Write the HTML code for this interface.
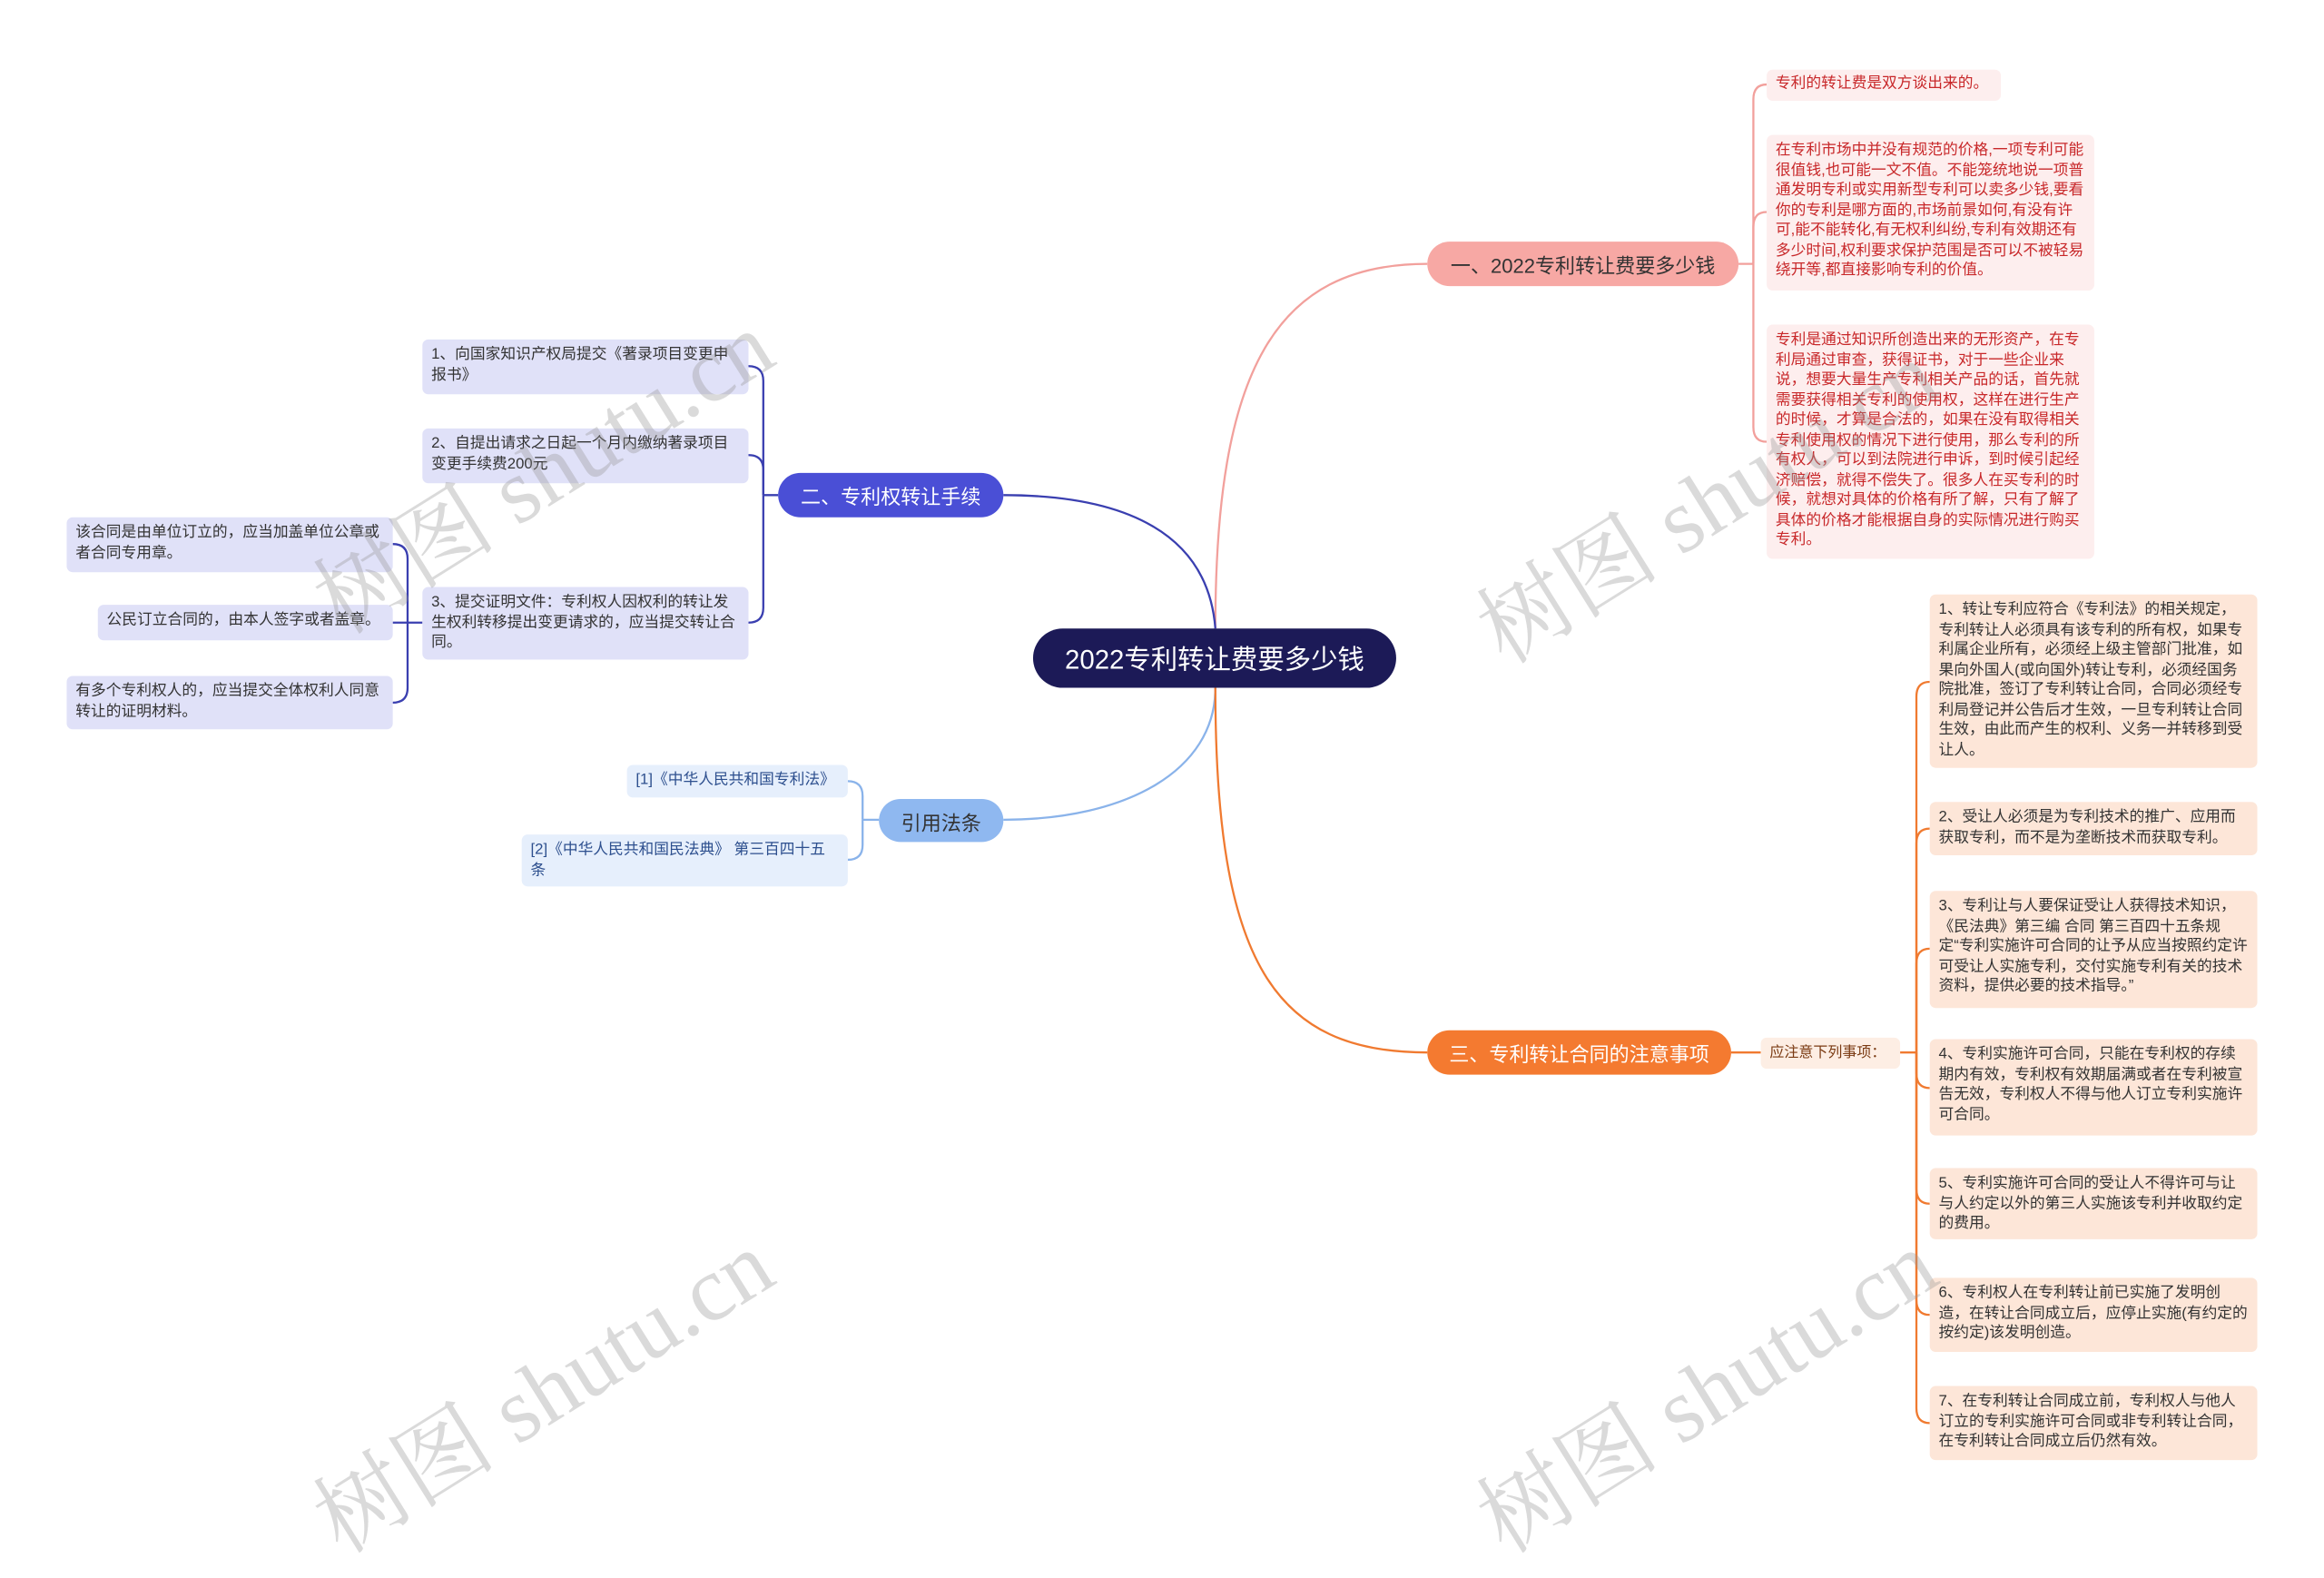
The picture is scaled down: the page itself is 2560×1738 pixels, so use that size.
<!DOCTYPE html>
<html><head><meta charset="utf-8">
<style>
html,body{margin:0;padding:0;background:#fff;width:2560px;height:1683px;overflow:hidden}
#s{position:absolute;left:0;top:0;width:1568px;height:1031px;transform:scale(1.63265);transform-origin:0 0;font-family:"Liberation Sans","Noto Sans CJK SC",sans-serif}
.b{position:absolute;box-sizing:border-box;border-radius:4px;font-size:10.25px;line-height:13.5px;padding:4px 5px 4px 6px;word-break:break-all}
.p{background:#fdeeee;color:#c8282a}
.l{background:#e0e1f8;color:#333}
.c{background:#e6effc;color:#2d4f8e}
.o{background:#fde6d8;color:#333}
.pill{position:absolute;box-sizing:border-box;border-radius:16px;display:flex;align-items:center;justify-content:center;font-size:13.5px;white-space:nowrap}
.wm{position:absolute;font-family:"Liberation Serif","Noto Serif CJK SC",serif;font-size:62px;color:rgba(150,150,150,0.35);transform:rotate(-32deg);transform-origin:center;white-space:nowrap}
</style></head><body>
<div id="s">
<svg width="1568" height="1031" style="position:absolute;left:0;top:0" fill="none" stroke-width="1.4">
<path d="M820,424 C820,250 860,178 963,178" stroke="#f2a09c"/>
<path d="M820,424 C815,360 760,334 677,334" stroke="#3a3fb0"/>
<path d="M820,464 C820,520 760,553 677,553" stroke="#8ab3ea"/>
<path d="M820,464 C820,650 860,710 963,710" stroke="#f07a30"/>
<g stroke="#f2a09c">
<path d="M1173,178 H1183"/>
<path d="M1183,178 V67 Q1183,57 1192,57"/>
<path d="M1183,178 V153 Q1183,143 1192,143"/>
<path d="M1183,178 V288 Q1183,298 1192,298"/>
</g>
<g stroke="#3a3fb0">
<path d="M525,334 H515"/>
<path d="M515,334 V257 Q515,247 505,247"/>
<path d="M515,334 V317 Q515,307 505,307"/>
<path d="M515,334 V410 Q515,420 505,420"/>
<path d="M285,420 H275"/>
<path d="M275,420 V377 Q275,367 265,367"/>
<path d="M275,420 H265"/>
<path d="M275,420 V464 Q275,474 265,474"/>
</g>
<g stroke="#8ab3ea">
<path d="M593,553 H582"/>
<path d="M582,553 V537 Q582,527 572,527"/>
<path d="M582,553 V570 Q582,580 572,580"/>
</g>
<g stroke="#f07a30">
<path d="M1168,710 H1188"/>
<path d="M1282,710 H1293"/>
<path d="M1293,710 V470 Q1293,460 1302,460"/>
<path d="M1293,710 V569 Q1293,559 1302,559"/>
<path d="M1293,710 V650 Q1293,640 1302,640"/>
<path d="M1293,710 V724 Q1293,734 1302,734"/>
<path d="M1293,710 V802 Q1293,812 1302,812"/>
<path d="M1293,710 V877 Q1293,887 1302,887"/>
<path d="M1293,710 V950 Q1293,960 1302,960"/>
</g>
</svg>

<div class="pill" style="left:697px;top:424px;width:245px;height:40px;background:#1c1a57;color:#fff;font-size:18px;border-radius:20px">2022专利转让费要多少钱</div>

<div class="pill" style="left:963px;top:163px;width:210px;height:30px;background:#f7a8a4;color:#333">一、2022专利转让费要多少钱</div>
<div class="b p" style="left:1192px;top:47px;width:158px;height:21px;padding-top:3px">专利的转让费是双方谈出来的。</div>
<div class="b p" style="left:1192px;top:91px;width:221px;height:105px">在专利市场中并没有规范的价格,一项专利可能很值钱,也可能一文不值。不能笼统地说一项普通发明专利或实用新型专利可以卖多少钱,要看你的专利是哪方面的,市场前景如何,有没有许可,能不能转化,有无权利纠纷,专利有效期还有多少时间,权利要求保护范围是否可以不被轻易绕开等,都直接影响专利的价值。</div>
<div class="b p" style="left:1192px;top:219px;width:221px;height:158px">专利是通过知识所创造出来的无形资产，在专利局通过审查，获得证书，对于一些企业来说，想要大量生产专利相关产品的话，首先就需要获得相关专利的使用权，这样在进行生产的时候，才算是合法的，如果在没有取得相关专利使用权的情况下进行使用，那么专利的所有权人，可以到法院进行申诉，到时候引起经济赔偿，就得不偿失了。很多人在买专利的时候，就想对具体的价格有所了解，只有了解了具体的价格才能根据自身的实际情况进行购买专利。</div>

<div class="pill" style="left:525px;top:319px;width:152px;height:30px;background:#4a4fd6;color:#fff">二、专利权转让手续</div>
<div class="b l" style="left:285px;top:229px;width:220px;height:37px">1、向国家知识产权局提交《著录项目变更申报书》</div>
<div class="b l" style="left:285px;top:289px;width:220px;height:37px">2、自提出请求之日起一个月内缴纳著录项目变更手续费200元</div>
<div class="b l" style="left:285px;top:396px;width:220px;height:49px">3、提交证明文件：专利权人因权利的转让发生权利转移提出变更请求的，应当提交转让合同。</div>
<div class="b l" style="left:45px;top:349px;width:220px;height:37px">该合同是由单位订立的，应当加盖单位公章或者合同专用章。</div>
<div class="b l" style="left:66px;top:408px;width:199px;height:24px;white-space:nowrap">公民订立合同的，由本人签字或者盖章。</div>
<div class="b l" style="left:45px;top:456px;width:220px;height:36px">有多个专利权人的，应当提交全体权利人同意转让的证明材料。</div>

<div class="pill" style="left:593px;top:539px;width:84px;height:29px;background:#8fb8f0;color:#333">引用法条</div>
<div class="b c" style="left:423px;top:516px;width:149px;height:22px;padding-top:4px">[1]《中华人民共和国专利法》</div>
<div class="b c" style="left:352px;top:563px;width:220px;height:35px;padding-right:8px">[2]《中华人民共和国民法典》 第三百四十五<br>条</div>

<div class="pill" style="left:963px;top:695px;width:205px;height:30px;background:#f47a30;color:#fff">三、专利转让合同的注意事项</div>
<div class="b" style="left:1188px;top:700px;width:94px;height:21px;background:#fdeee4;color:#7a3a12;font-size:9.8px;padding-top:4px">应注意下列事项：</div>
<div class="b o" style="left:1302px;top:401px;width:221px;height:117px">1、转让专利应符合《专利法》的相关规定，专利转让人必须具有该专利的所有权，如果专利属企业所有，必须经上级主管部门批准，如果向外国人(或向国外)转让专利，必须经国务院批准，签订了专利转让合同，合同必须经专利局登记并公告后才生效，一旦专利转让合同生效，由此而产生的权利、义务一并转移到受让人。</div>
<div class="b o" style="left:1302px;top:541px;width:221px;height:36px">2、受让人必须是为专利技术的推广、应用而获取专利，而不是为垄断技术而获取专利。</div>
<div class="b o" style="left:1302px;top:601px;width:221px;height:79px">3、专利让与人要保证受让人获得技术知识，《民法典》第三编 合同 第三百四十五条规定“专利实施许可合同的让予从应当按照约定许可受让人实施专利，交付实施专利有关的技术资料，提供必要的技术指导。”</div>
<div class="b o" style="left:1302px;top:701px;width:221px;height:65px">4、专利实施许可合同，只能在专利权的存续期内有效，专利权有效期届满或者在专利被宣告无效，专利权人不得与他人订立专利实施许可合同。</div>
<div class="b o" style="left:1302px;top:788px;width:221px;height:48px">5、专利实施许可合同的受让人不得许可与让与人约定以外的第三人实施该专利并收取约定的费用。</div>
<div class="b o" style="left:1302px;top:862px;width:221px;height:50px">6、专利权人在专利转让前已实施了发明创造，在转让合同成立后，应停止实施(有约定的按约定)该发明创造。</div>
<div class="b o" style="left:1302px;top:935px;width:221px;height:50px">7、在专利转让合同成立前，专利权人与他人订立的专利实施许可合同或非专利转让合同，在专利转让合同成立后仍然有效。</div>

<div class="wm" style="left:190px;top:270px">树图 shutu.cn</div>
<div class="wm" style="left:190px;top:890px">树图 shutu.cn</div>
<div class="wm" style="left:975px;top:290px">树图 shutu.cn</div>
<div class="wm" style="left:975px;top:890px">树图 shutu.cn</div>
</div>
</body></html>
